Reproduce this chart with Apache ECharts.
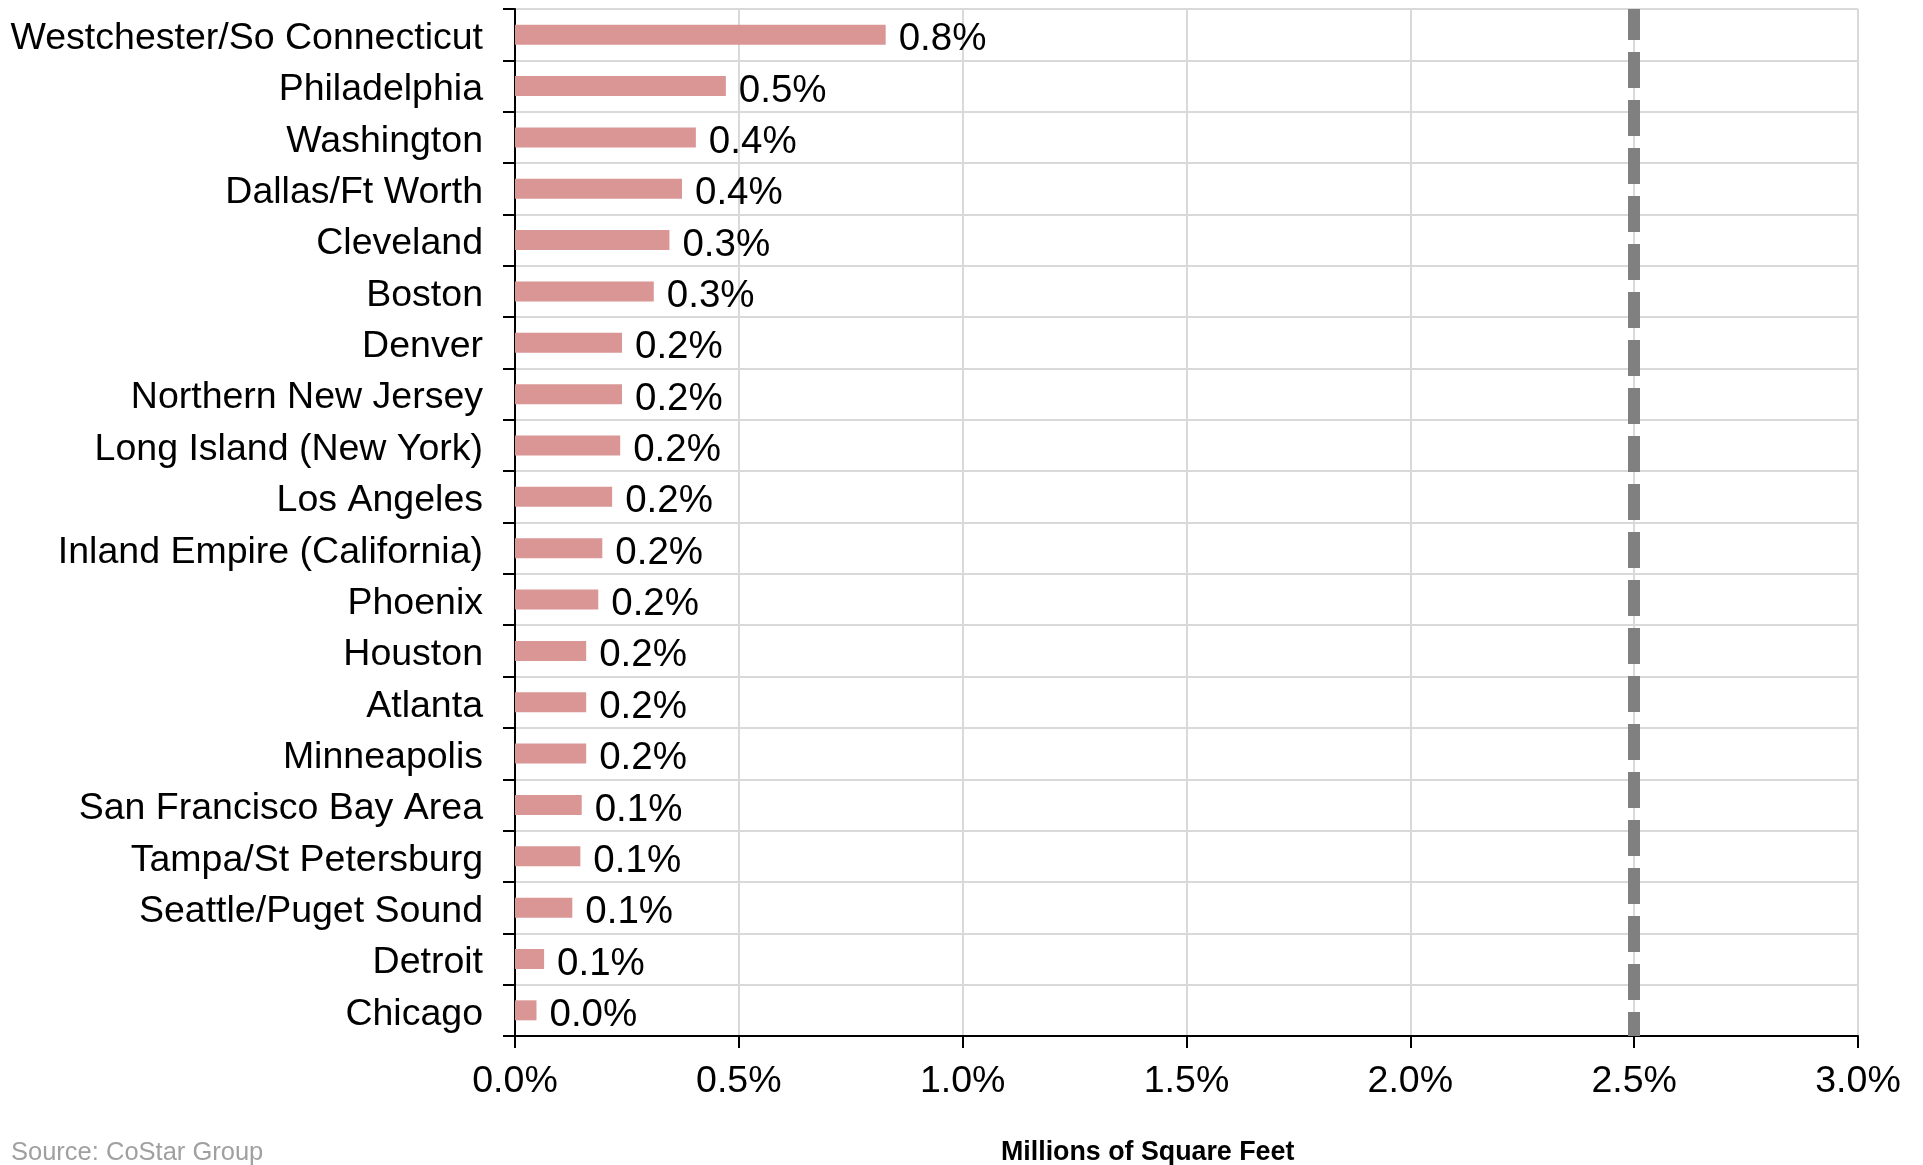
<!DOCTYPE html>
<html>
<head>
<meta charset="utf-8">
<title>Vacancy share by market</title>
<script src="https://cdn.jsdelivr.net/npm/echarts@6/dist/echarts.min.js"></script>
<style>
  html, body { margin: 0; padding: 0; background: #ffffff; }
  #chart { width: 1923px; height: 1165px; }
</style>
</head>
<body>
<div id="chart"></div>
<script>
// Markets, listed top to bottom
const markets = [
  'Westchester/So Connecticut', 'Philadelphia', 'Washington', 'Dallas/Ft Worth',
  'Cleveland', 'Boston', 'Denver', 'Northern New Jersey', 'Long Island (New York)',
  'Los Angeles', 'Inland Empire (California)', 'Phoenix', 'Houston', 'Atlanta',
  'Minneapolis', 'San Francisco Bay Area', 'Tampa/St Petersburg', 'Seattle/Puget Sound',
  'Detroit', 'Chicago'
];

// Share per market, in percent
const shareValues = [
  0.828, 0.471, 0.404, 0.373,
  0.345, 0.310, 0.239, 0.239, 0.235,
  0.217, 0.195, 0.186, 0.159, 0.159,
  0.159, 0.149, 0.146, 0.128,
  0.065, 0.048
];

// Reference level drawn as a dashed vertical line, in percent
const benchmarkValue = [2.5];

// Value axis range and tick step, in percent
const axisMin = 0;
const axisMax = 3.0;
const axisStep = 0.5;

const FONT = "'Liberation Sans', Arial, Helvetica, sans-serif";

const chart = echarts.init(document.getElementById('chart'), null, { renderer: 'canvas' });

chart.setOption({
  animation: false,
  backgroundColor: '#ffffff',
  textStyle: { fontFamily: FONT },
  title: [
    {
      text: 'Source: CoStar Group',
      left: 11,
      top: 1140,
      padding: 0,
      textStyle: { fontFamily: FONT, fontSize: 25.5, fontWeight: 'normal', color: '#a0a0a0' }
    },
    {
      text: 'Millions of Square Feet',
      left: 1001,
      top: 1139,
      padding: 0,
      textStyle: { fontFamily: FONT, fontSize: 26.8, fontWeight: 'bold', color: '#000000' }
    }
  ],
  grid: { left: 515, right: 65, top: 9, bottom: 129, containLabel: false },
  xAxis: {
    type: 'value',
    min: axisMin,
    max: axisMax,
    interval: axisStep,
    axisLine: { show: true, lineStyle: { color: '#000000', width: 2 } },
    axisTick: { show: true, length: 12, lineStyle: { color: '#000000', width: 2 } },
    axisLabel: {
      margin: 27,
      fontSize: 37.5,
      color: '#000000',
      fontFamily: FONT,
      formatter: v => v.toFixed(1) + '%'
    },
    splitLine: { show: true, lineStyle: { color: '#d9d9d9', width: 2 } }
  },
  yAxis: {
    type: 'category',
    inverse: true,
    data: markets,
    axisLine: { show: true, lineStyle: { color: '#000000', width: 2 } },
    axisTick: { show: true, length: 12, lineStyle: { color: '#000000', width: 2 } },
    axisLabel: {
      margin: 32,
      fontSize: 37.5,
      color: '#000000',
      fontFamily: FONT,
      formatter: name => '{c|' + name + '}',
      rich: {
        c: { fontSize: 37.5, fontFamily: FONT, color: '#000000', padding: [8, 0, 0, 0] }
      }
    },
    splitLine: { show: true, lineStyle: { color: '#d9d9d9', width: 2 } }
  },
  series: [
    {
      type: 'bar',
      data: shareValues,
      barWidth: 20,
      itemStyle: { color: '#d99694' },
      label: {
        show: true,
        position: 'right',
        distance: 13,
        offset: [0, 5],
        fontSize: 38.5,
        color: '#000000',
        fontFamily: FONT,
        formatter: p => p.value.toFixed(1) + '%'
      },
      markLine: {
        silent: true,
        symbol: ['none', 'none'],
        label: { show: false },
        lineStyle: { color: '#808080', width: 12, type: [36, 12], dashOffset: 5, opacity: 1 },
        emphasis: { disabled: true },
        data: benchmarkValue.map(v => ({ xAxis: v }))
      }
    }
  ]
});
</script>
</body>
</html>
